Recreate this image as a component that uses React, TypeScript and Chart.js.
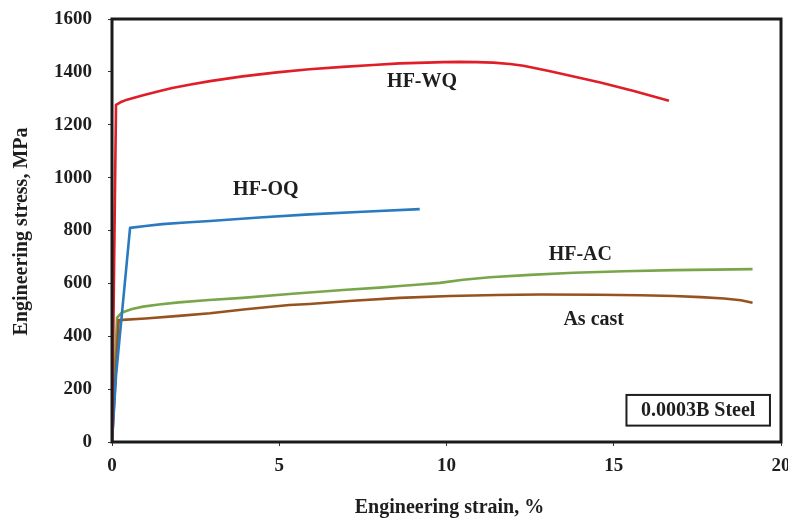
import React, { useEffect, useRef } from "react";
import { Chart, registerables } from "chart.js";

Chart.register(...registerables);

const seriesNames = ["HF-WQ", "HF-OQ", "HF-AC", "As cast"];
const seriesColors = ["#E01E28", "#2A7ABF", "#79A64A", "#98521F"];

const strainWQ = [0, 0.12, 0.25, 0.45, 0.93, 1.4, 1.8, 2.35, 2.93, 3.9, 4.93, 5.9, 6.9, 7.8, 8.6, 9.4, 9.9, 10.4, 10.9, 11.4, 11.9, 12.3, 12.7, 13.1, 13.6, 14.6, 15.6, 16.65];
const stressWQ = [0, 1275, 1285, 1295, 1312, 1327, 1339, 1352, 1365, 1383, 1398, 1410, 1419, 1426, 1432, 1435, 1437, 1438, 1437, 1435, 1430, 1423, 1413, 1402, 1388, 1360, 1328, 1291];

const strainOQ = [0, 0.12, 0.54, 1.0, 1.5, 2.2, 2.93, 4.4, 5.9, 7.5, 9.2];
const stressOQ = [0, 250, 810, 817, 824, 830, 836, 849, 861, 871, 881];

const strainAC = [0, 0.15, 0.3, 0.6, 0.93, 1.4, 2.0, 2.9, 3.9, 5.3, 6.9, 8.0, 8.6, 9.2, 9.8, 10.5, 11.3, 12.5, 13.8, 15.3, 16.8, 18.0, 19.15];
const stressAC = [0, 470, 490, 503, 512, 520, 528, 537, 545, 560, 575, 584, 590, 596, 602, 614, 623, 632, 640, 646, 650, 652, 654];

const strainCast = [0, 0.2, 1.0, 2.0, 2.93, 4.0, 5.3, 5.9, 7.2, 8.6, 10.1, 11.5, 12.8, 14.5, 15.8, 16.8, 17.6, 18.3, 18.8, 19.15];
const stressCast = [0, 461, 467, 477, 487, 502, 518, 522, 534, 545, 552, 556, 558, 557, 555, 552, 548, 543, 536, 527];

const xTicks = [0, 5, 10, 15, 20];
const yTicks = [0, 200, 400, 600, 800, 1000, 1200, 1400, 1600];

// label anchors in data units
const labelTexts = ["HF-WQ", "HF-OQ", "HF-AC", "As cast"];
const labelX = [9.27, 4.6, 14.0, 14.4];
const labelY = [1363, 955, 707, 463];

const boxText = "0.0003B Steel";
const boxX = [15.38, 19.67];
const boxY = [62, 178];

const xTitle = "Engineering strain, %";
const yTitle = "Engineering stress, MPa";

const FONT = "'Liberation Serif', 'Times New Roman', serif";

const toPts = (xs: number[], ys: number[]) => xs.map((x, i) => ({ x, y: ys[i] }));

export default function App() {
  const ref = useRef<HTMLCanvasElement | null>(null);

  useEffect(() => {
    document.body.style.margin = "0";
    const canvas = ref.current!;
    const overlay = {
      id: "overlay",
      afterDatasetsDraw(chart: any) {
        const { ctx, chartArea: a, scales } = chart;
        const xs = scales.x;
        const ys = scales.y;
        ctx.save();
        // frame
        ctx.strokeStyle = "#1a1a1a";
        ctx.lineWidth = 3;
        ctx.strokeRect(a.left, a.top, a.right - a.left, a.bottom - a.top);
        // series labels
        ctx.fillStyle = "#1e1e1e";
        ctx.font = `bold 20px ${FONT}`;
        ctx.textAlign = "center";
        ctx.textBaseline = "middle";
        labelTexts.forEach((t, i) => {
          ctx.fillText(t, xs.getPixelForValue(labelX[i]), ys.getPixelForValue(labelY[i]));
        });
        // annotation box
        const bx0 = xs.getPixelForValue(boxX[0]);
        const bx1 = xs.getPixelForValue(boxX[1]);
        const by0 = ys.getPixelForValue(boxY[1]);
        const by1 = ys.getPixelForValue(boxY[0]);
        ctx.fillStyle = "#ffffff";
        ctx.fillRect(bx0, by0, bx1 - bx0, by1 - by0);
        ctx.strokeStyle = "#1e1e1e";
        ctx.lineWidth = 2;
        ctx.strokeRect(bx0, by0, bx1 - bx0, by1 - by0);
        ctx.fillStyle = "#1e1e1e";
        ctx.fillText(boxText, (bx0 + bx1) / 2, (by0 + by1) / 2 + 1);
        // axis titles
        ctx.fillText(xTitle, (a.left + a.right) / 2 + 3, 508);
        ctx.translate(22, (a.top + a.bottom) / 2 + 1);
        ctx.rotate(-Math.PI / 2);
        ctx.fillText(yTitle, 0, 0);
        ctx.restore();
      },
    };

    const mk = (i: number, xs: number[], ys: number[]) => ({
      label: seriesNames[i],
      data: toPts(xs, ys),
      borderColor: seriesColors[i],
      backgroundColor: seriesColors[i],
      borderWidth: 2.6,
      pointRadius: 0,
      tension: 0,
      borderJoinStyle: "round" as const,
      fill: false,
    });

    const chart = new Chart(canvas, {
      type: "line",
      data: {
        datasets: [
          mk(0, strainWQ, stressWQ),
          mk(1, strainOQ, stressOQ),
          mk(3, strainCast, stressCast),
          mk(2, strainAC, stressAC),
        ],
      },
      options: {
        animation: false,
        responsive: false,
        layout: { padding: { top: 19, right: 7, left: 0, bottom: 0 } },
        plugins: { legend: { display: false }, tooltip: { enabled: false } },
        scales: {
          x: {
            type: "linear",
            min: 0,
            max: 20,
            border: { display: false },
            grid: { display: true, drawOnChartArea: false, drawTicks: true, tickLength: 4, color: "#333" },
            afterBuildTicks: (s: any) => {
              s.ticks = xTicks.map((v) => ({ value: v }));
            },
            afterFit: (s: any) => {
              s.height = 77;
              s.paddingLeft = 0;
              s.paddingRight = 0;
            },
            ticks: {
              padding: 9,
              color: "#1e1e1e",
              font: { family: FONT, size: 19, weight: "bold" },
              maxRotation: 0,
              callback: (v: any) => String(v),
            },
          },
          y: {
            type: "linear",
            min: 0,
            max: 1600,
            border: { display: false },
            grid: { display: true, drawOnChartArea: false, drawTicks: true, tickLength: 4, color: "#333" },
            afterBuildTicks: (s: any) => {
              s.ticks = yTicks.map((v) => ({ value: v }));
            },
            afterFit: (s: any) => {
              s.width = 112;
              s.paddingTop = 0;
              s.paddingBottom = 0;
            },
            ticks: {
              padding: 16,
              color: "#1e1e1e",
              font: { family: FONT, size: 19, weight: "bold" },
              callback: (v: any) => String(v),
            },
          },
        },
      },
      plugins: [overlay],
    });
    return () => chart.destroy();
  }, []);

  return (
    <div style={{ position: "absolute", left: 0, top: 0, width: 788, height: 519, background: "#fff" }}>
      <canvas ref={ref} width={788} height={519} style={{ width: 788, height: 519, display: "block" }} />
    </div>
  );
}
